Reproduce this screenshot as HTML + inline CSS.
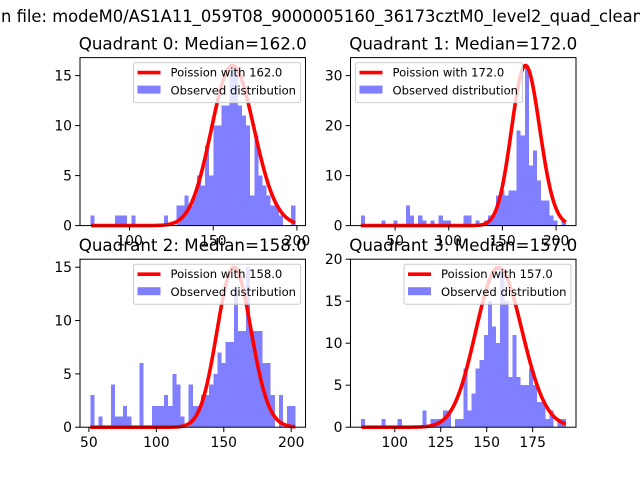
<!DOCTYPE html>
<html><head><meta charset="utf-8"><style>
html,body{margin:0;padding:0;background:#fff;}
svg{display:block;font-family:"DejaVu Sans","Liberation Sans",sans-serif;}
</style></head><body>
<svg id="fig" width="640" height="480" viewBox="0 0 640 480">
<text x="1" y="22" font-size="16.7" textLength="642" lengthAdjust="spacingAndGlyphs">n file: modeM0/AS1A11_059T08_9000005160_36173cztM0_level2_quad_clean</text>
</svg>
<script>
const q0Counts=[1,0,0,0,0,0,1,1,1,0,1,0,0,0,0,0,0,0,1,0,0,2,2,3,2,3,5,4,8,5,10,10,12,12,16,16,12,11,10,3,9,5,4,3,2,2,1,0,0,2];
const q1Counts=[2,0,0,0,0,1,0,0,1,0,0,4,2,0,2,1,0,1,0,2,1,1,0,0,0,2,2,0,1,0,1,2,2,6,7,6,7,7,19,18,32,12,15,9,5,5,2,1,0,1];
const q2Counts=[3,0,1,0,0,4,1,1,2,1,0,0,6,0,0,2,2,2,3,2,5,4,1,0,4,2,2,3,3,4,5,7,6,8,8,13,9,9,15,9,9,9,6,6,3,0,3,0,2,2];
const q3Counts=[1,0,0,0,0,1,0,0,0,1,0,0,0,0,0,2,0,1,1,1,2,2,0,1,1,7,2,4,7,8,11,15,12,10,19,15,6,11,6,5,5,7,5,3,3,1,2,0,1,1];
const medians=[162.0,172.0,158.0,157.0];
const dataMin=[76.5,18,51,81.5];
const dataMax=[199,209,203,193];
const xTicks=[[100,150,200],[50,100,150,200],[50,100,150,200],[100,125,150,175]];
const yTicks=[[0,5,10,15],[0,10,20,30],[0,5,10,15],[0,5,10,15,20]];
const yTop=[16.8,33.6,15.75,20.0];
const legendLeft=[false,true,false,false];

const NS="http://www.w3.org/2000/svg";
const fig=document.getElementById('fig');
function mk(tag,attrs,parent){const e=document.createElementNS(NS,tag);for(const k in attrs)e.setAttribute(k,attrs[k]);(parent||fig).appendChild(e);return e;}
function logFact(k){let s=0;for(let i=2;i<=k;i++)s+=Math.log(i);return s;}
const axes=[{x:80,y:57.6},{x:350.5,y:57.6},{x:80,y:259.2},{x:350.5,y:259.2}];
const W=225.5,H=168;
const countsAll=[q0Counts,q1Counts,q2Counts,q3Counts];

for(let q=0;q<4;q++){
  const ax=axes[q],counts=countsAll[q];
  const g=mk('g',{});
  
  
  const mn=dataMin[q],mx=dataMax[q],r=mx-mn;
  const x0=mn-0.05*r,x1=mx+0.05*r;
  const sx=v=>ax.x+(v-x0)/(x1-x0)*W;
  const sy=v=>ax.y+H-v/yTop[q]*H;
  const nb=counts.length,bw=r/nb;
  counts.forEach((c,i)=>{
    if(c<=0)return;
    const b=mk('rect',{x:sx(mn+i*bw),y:sy(c),width:sx(mn+(i+1)*bw)-sx(mn+i*bw),height:sy(0)-sy(c),fill:'rgba(0,0,255,0.5)','shape-rendering':'crispEdges'},g);
    
    
  });
  const lam=medians[q];const pts=[];let peak=0;const ks=[];
  for(let k=Math.ceil(mn);k<=Math.floor(mx);k++){const p=Math.exp(k*Math.log(lam)-lam-logFact(k));ks.push([k,p]);if(p>peak)peak=p;}
  const cmax=Math.max(...counts);
  ks.forEach(([k,p])=>pts.push(sx(k).toFixed(2)+','+sy(p/peak*cmax).toFixed(2)));
  const cl=mk('polyline',{points:pts.join(' '),fill:'none',stroke:'#ff0000','stroke-width':3.6,'stroke-linejoin':'round'},g);
  
  
  const fr=mk('rect',{x:ax.x,y:ax.y,width:W,height:H,fill:'none',stroke:'#000','stroke-width':1},g);
  
  
  xTicks[q].forEach(t=>{
    const X=sx(t);
    mk('line',{x1:X,x2:X,y1:ax.y+H,y2:ax.y+H+4.9,stroke:'#000','stroke-width':1},g);
    const tl=mk('text',{x:X,y:ax.y+H+20,'font-size':13.9,'text-anchor':'middle'},g);
    tl.textContent=t;
    
    
  });
  yTicks[q].forEach(t=>{
    const Y=sy(t);
    mk('line',{x1:ax.x-4.9,x2:ax.x,y1:Y,y2:Y,stroke:'#000','stroke-width':1},g);
    const tl=mk('text',{x:ax.x-8,y:Y+5,'font-size':13.9,'text-anchor':'end'},g);
    tl.textContent=t;
    
    
  });
  const tt=mk('text',{x:ax.x+W/2,y:ax.y-8,'font-size':16.7,'text-anchor':'middle'},g);
  tt.textContent='Quadrant '+q+': Median='+medians[q].toFixed(1);
  
  
  const lw=167,lh=40;
  const lx=legendLeft[q]?ax.x+5:ax.x+W-5-lw,ly=ax.y+5;
  const lg=mk('g',{},g);
  
  
  mk('rect',{x:lx,y:ly,width:lw,height:lh,rx:2,fill:'rgba(255,255,255,0.8)',stroke:'#cccccc','stroke-width':1},lg);
  mk('line',{x1:lx+4,x2:lx+27,y1:ly+10,y2:ly+10,stroke:'#ff0000','stroke-width':3.6},lg);
  const t1=mk('text',{x:lx+37,y:ly+14,'font-size':11.6},lg);
  t1.textContent='Poission with '+medians[q].toFixed(1);
  
  
  mk('rect',{x:lx+4,y:ly+23,width:23,height:8,fill:'rgba(0,0,255,0.5)'},lg);
  const t2=mk('text',{x:lx+37,y:ly+32,'font-size':11.6},lg);
  t2.textContent='Observed distribution';
  
  
}
</script>
</body></html>
